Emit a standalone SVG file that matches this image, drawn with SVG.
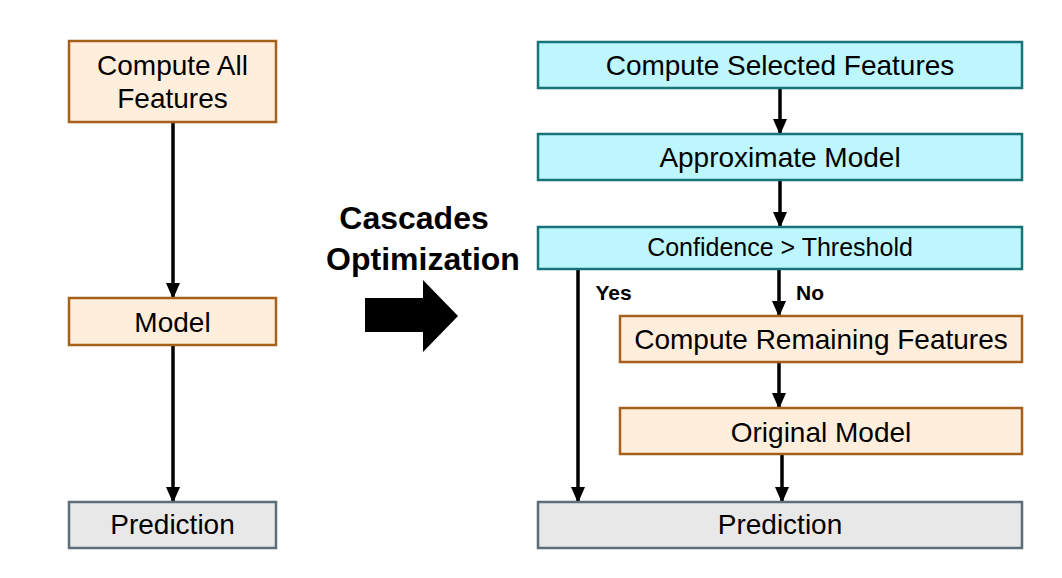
<svg xmlns="http://www.w3.org/2000/svg" width="1062" height="578" viewBox="0 0 1062 578">
<style>
.o{fill:#FFEEDB;stroke:#A5611C;stroke-width:2.5}
.c{fill:#BDF6FC;stroke:#187479;stroke-width:2.5}
.g{fill:#E8E8E8;stroke:#5C6E7A;stroke-width:2.5}
text{font-family:"Liberation Sans",Arial,sans-serif;fill:#000;text-anchor:middle}
.t{font-size:28px}
.s{font-size:25px}
.b{font-weight:bold}
.e{stroke:#000;stroke-width:3.5;fill:none}
</style>
<defs>
<marker id="a" markerUnits="userSpaceOnUse" markerWidth="16" markerHeight="14" refX="15" refY="7" orient="auto" viewBox="0 0 16 14">
<path d="M0,0 L16,7 L0,14 Z" fill="#000"/>
</marker>
</defs>
<rect width="1062" height="578" fill="#fff"/>
<g id="connectors">
<line class="e" x1="173" y1="122" x2="173" y2="298" marker-end="url(#a)"/>
<line class="e" x1="173" y1="345" x2="173" y2="502" marker-end="url(#a)"/>
<line class="e" x1="780" y1="88" x2="780" y2="134" marker-end="url(#a)"/>
<line class="e" x1="780" y1="180" x2="780" y2="227" marker-end="url(#a)"/>
<line class="e" x1="779" y1="269" x2="779" y2="316" marker-end="url(#a)"/>
<line class="e" x1="779" y1="362" x2="779" y2="408" marker-end="url(#a)"/>
<line class="e" x1="782" y1="454" x2="782" y2="502" marker-end="url(#a)"/>
<line class="e" x1="578" y1="269" x2="578" y2="502" marker-end="url(#a)"/>
<text class="b" x="613.5" y="300" style="font-size:21px">Yes</text>
<text class="b" x="810" y="300" style="font-size:21px">No</text>
</g>
<g id="n-all">
<rect class="o" x="69" y="41" width="207" height="81"/>
<text class="t" x="172.5" y="75">Compute All</text>
<text class="t" x="172.5" y="108">Features</text>
</g>
<g id="n-model">
<rect class="o" x="69" y="298" width="207" height="47"/>
<text class="t" x="172.5" y="332">Model</text>
</g>
<g id="n-pred-l">
<rect class="g" x="69" y="502" width="207" height="46"/>
<text class="t" x="172.5" y="534">Prediction</text>
</g>
<g id="n-csf">
<rect class="c" x="538" y="42" width="484" height="46"/>
<text class="t" x="780" y="75">Compute Selected Features</text>
</g>
<g id="n-am">
<rect class="c" x="538" y="134" width="484" height="46"/>
<text class="t" x="780" y="167">Approximate Model</text>
</g>
<g id="n-conf">
<rect class="c" x="538" y="227" width="484" height="42"/>
<text class="s" x="780" y="256">Confidence &gt; Threshold</text>
</g>
<g id="n-crf">
<rect class="o" x="620" y="316" width="402" height="46"/>
<text class="t" x="821" y="349">Compute Remaining Features</text>
</g>
<g id="n-om">
<rect class="o" x="620" y="408" width="402" height="46"/>
<text class="t" x="821" y="442">Original Model</text>
</g>
<g id="n-pred-r">
<rect class="g" x="538" y="502" width="484" height="46"/>
<text class="t" x="780" y="534">Prediction</text>
</g>
<g id="cascades">
<text class="b" x="414" y="229" style="font-size:32px">Cascades</text>
<text class="b" x="423" y="270" style="font-size:32px">Optimization</text>
<path d="M365,298 L423,298 L423,280 L458,316 L423,352 L423,332 L365,332 Z" fill="#000"/>
</g>
</svg>
